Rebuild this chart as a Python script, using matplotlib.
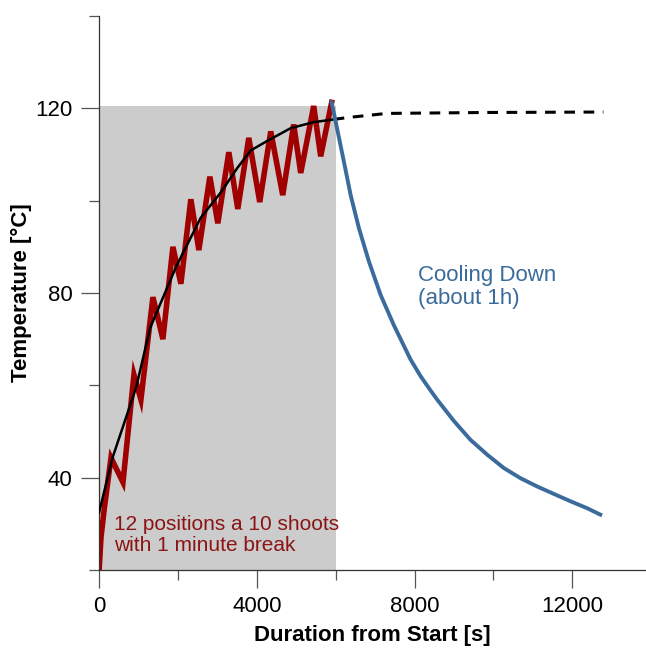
import matplotlib.pyplot as plt
from matplotlib.ticker import MultipleLocator

plt.rcParams['font.family'] = ['Liberation Sans', 'DejaVu Sans']

# heating run: 12 positions, shooting / break zigzag
heat_t = [0, 50, 130, 304, 608, 886, 1063, 1367, 1620, 1874, 2076, 2329, 2532,
          2811, 3013, 3292, 3519, 3798, 4076, 4355, 4659, 4937, 5115, 5444,
          5621, 5900]
heat_T = [19.5, 27, 33, 44.3, 39, 62.3, 56.9, 79.1, 70, 90, 82, 100.3, 89.3,
          105.2, 95.1, 110.5, 98.2, 113.6, 99.7, 115, 101.2, 116.5, 106, 120.5,
          109.6, 121.3]

# smooth fit through heating phase
fit_t = [0, 350, 940, 1300, 1950, 2580, 3090, 3500, 3850, 4280, 4860, 5440, 5950]
fit_T = [32.4, 44.5, 59.5, 72.5, 85.6, 96.3, 101.8, 107, 110.9, 113, 115.7, 117, 117.6]

# extrapolation of the fit
extra_t = [5950, 6300, 7300, 9800, 12790]
extra_T = [117.6, 118, 118.9, 119.1, 119.2]

# cooling down
cool_t = [5900, 6211, 6381, 6592, 6845, 7140, 7478, 7900, 8153, 8406, 8575,
          8997, 9419, 9841, 10263, 10685, 11108, 11528, 11951, 12374, 12711]
cool_T = [121.3, 108.4, 101.2, 94, 86.8, 79.6, 73.0, 65.6, 62.0, 58.9, 56.9,
          52.3, 48.2, 45, 42.1, 39.9, 38.1, 36.5, 34.9, 33.4, 32]

shade_end = 6000
shade_top = 120.5

red = '#a00000'
blue = '#3a6b9c'

fig = plt.figure(figsize=(6.46, 6.48), dpi=100)
ax = fig.add_axes([99 / 646, 78 / 648, 547 / 646, 554 / 648])

ax.fill_between([0, shade_end], 20, shade_top, color='#cccccc', lw=0, zorder=0)
ax.plot(heat_t, heat_T, color=red, lw=4, solid_joinstyle='miter', zorder=2)
ax.plot(fit_t, fit_T, color='black', lw=1.8, zorder=3)
ax.plot(extra_t, extra_T, color='black', lw=2.2, dashes=(3.5, 2.8), zorder=3)
ax.plot(cool_t, cool_T, color=blue, lw=2.8, zorder=4)

ax.text(380, 27.6, "12 positions a 10 shoots\nwith 1 minute break",
        color='#8b1414', fontsize=15, ha='left', va='center', linespacing=1.15)
ax.text(8100, 81.3, "Cooling Down\n(about 1h)", color=blue, fontsize=16,
        ha='left', va='center', linespacing=1.15)

ax.set_xlim(0, 13870)
ax.set_ylim(20, 140)
ax.xaxis.set_major_locator(MultipleLocator(4000))
ax.xaxis.set_minor_locator(MultipleLocator(2000))
ax.yaxis.set_major_locator(MultipleLocator(40))
ax.yaxis.set_minor_locator(MultipleLocator(20))
ax.set_yticks([40, 80, 120])

for side in ['top', 'right']:
    ax.spines[side].set_visible(False)
for side in ['left', 'bottom']:
    ax.spines[side].set_color('#333333')
    ax.spines[side].set_linewidth(0.9)

ax.tick_params(which='major', length=13, width=0.9, color='#555555',
               labelsize=16, pad=6)
ax.tick_params(which='minor', length=7, width=0.9, color='#555555')

ax.set_xlabel("Duration from Start [s]", fontsize=16, fontweight='bold')
ax.set_ylabel("Temperature [°C]", fontsize=16, fontweight='bold')
ax.xaxis.set_label_coords(0.5, -0.1)
ax.yaxis.set_label_coords(-0.1225, 0.5)

fig.savefig('out.png', dpi=100)
